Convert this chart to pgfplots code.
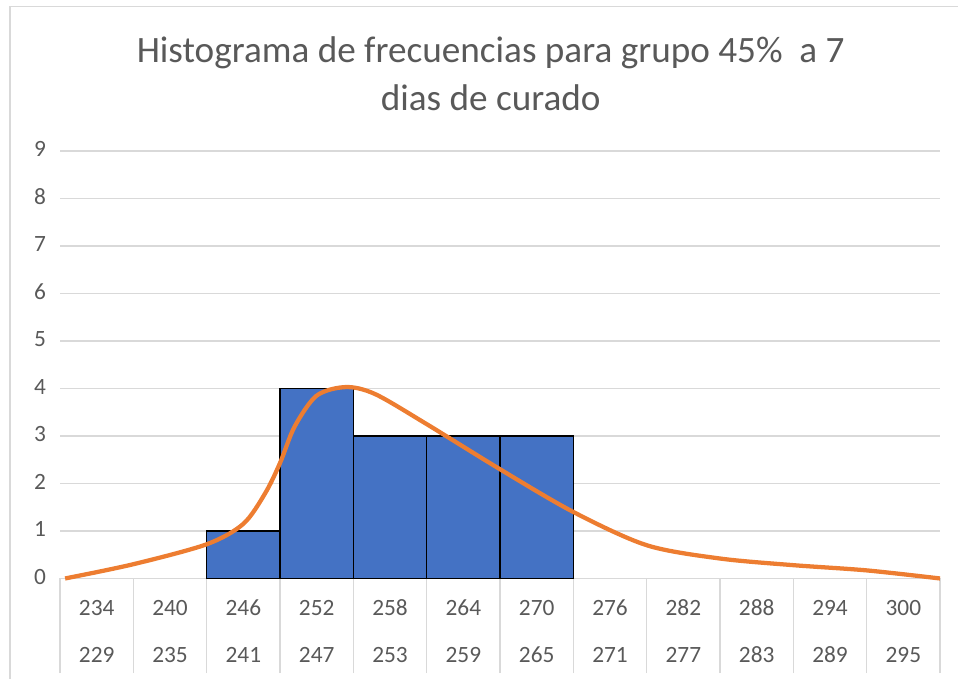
\documentclass[border=0pt]{standalone}
\usepackage{fontspec}
\setmainfont{Carlito}
\usepackage{pgfplots}
\pgfplotsset{compat=1.18}
\definecolor{txtgray}{RGB}{89,89,89}
\definecolor{gridgray}{RGB}{217,217,217}
\definecolor{barblue}{RGB}{68,114,196}
\definecolor{lineorange}{RGB}{237,125,49}
\begin{document}
\begin{tikzpicture}
\useasboundingbox (0,0) rectangle (718.5pt,509.25pt);
\draw[gridgray,line width=0.8pt] (7.5pt,0) -- (7.5pt,504.5pt) -- (718.5pt,504.5pt);
\node[txtgray,font=\fontsize{27.9}{35.5}\selectfont,align=center] at (368pt,454pt)
  {Histograma de frecuencias para grupo 45\%\ \ a 7\\dias de curado};
\begin{axis}[
  at={(45pt,75.4pt)}, anchor=south west,
  scale only axis, width=660pt, height=320.6pt,
  xmin=0, xmax=12, ymin=0, ymax=9,
  axis line style={draw=none},
  ytick={0,...,9},
  ymajorgrids, grid style={gridgray,line width=0.8pt},
  major tick length=0pt,
  xtick pos=lower,
  tick label style={txtgray,font=\fontsize{17.5}{22}\selectfont},
  /pgf/number format/assume math mode=true,
  yticklabel style={xshift=-7pt},
  xtick={0.5,1.5,...,11.5},
  xticklabels={234\\[13pt]229,240\\[13pt]235,246\\[13pt]241,252\\[13pt]247,258\\[13pt]253,264\\[13pt]259,270\\[13pt]265,276\\[13pt]271,282\\[13pt]277,288\\[13pt]283,294\\[13pt]289,300\\[13pt]295},
  typeset ticklabels with strut,
  xticklabel style={align=center,yshift=-9pt},
  extra x ticks={0,1,...,12},
  extra x tick labels={},
  extra x tick style={grid=none, major tick length=71pt, tick align=outside,
    xtick pos=lower, tick style={gridgray,line width=0.8pt}},
  clip=false,
]
\draw[gridgray,line width=0.8pt] (axis cs:0,0) -- (axis cs:12,0);
\addplot[ybar interval, fill=barblue, draw=black, line width=1.2pt] coordinates {
(2,1) (3,4) (4,3) (5,3) (6,3) (7,3)
};
\addplot[lineorange, line width=3.2pt, smooth, tension=0.5] coordinates {
(0.07,0) (1.0,0.30) (2.0,0.72) (2.5,1.15) (2.8,1.8) (3.0,2.43) (3.2,3.2)
(3.5,3.85) (3.9,4.03) (4.3,3.88) (5.0,3.25) (6.0,2.3) (7.0,1.40)
(8.0,0.70) (9.0,0.42) (10.0,0.28) (11.0,0.17) (12.0,0)
};
\end{axis}
\end{tikzpicture}
\end{document}
